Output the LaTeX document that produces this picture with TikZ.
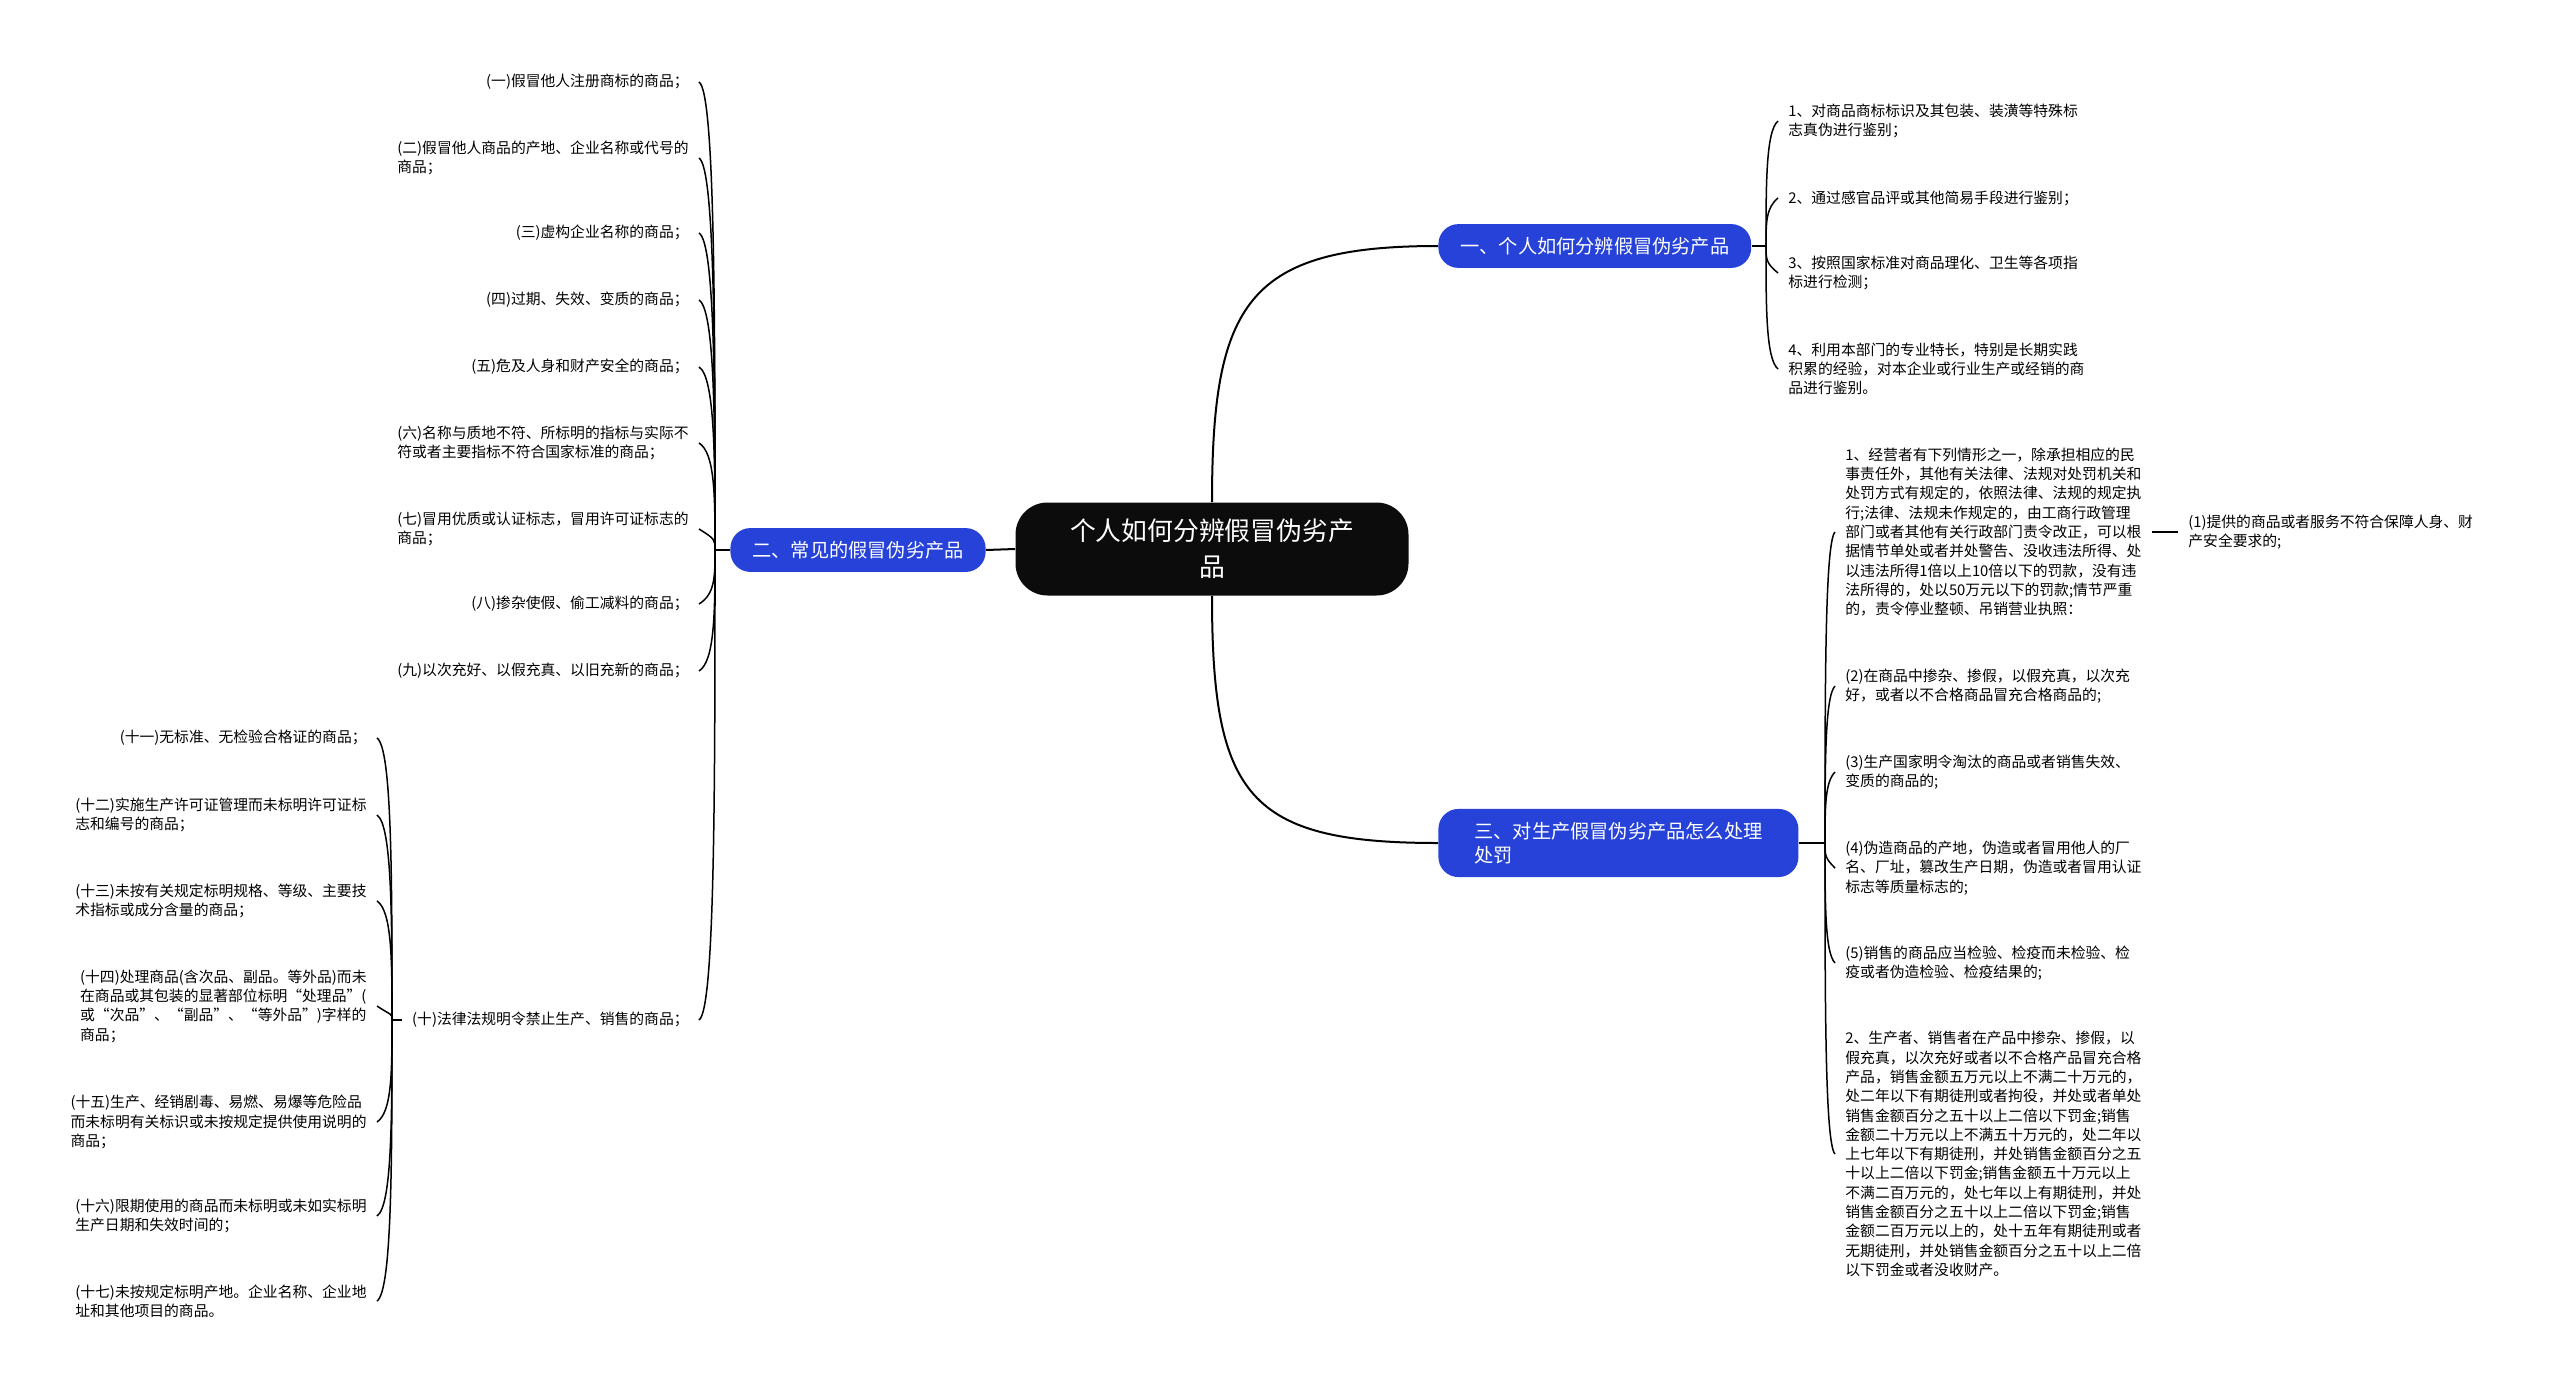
\documentclass[tikz,border=0pt]{standalone}
\usepackage{fontspec}
\setmainfont{Noto Sans CJK SC}
\usetikzlibrary{calc}
\definecolor{stblue}{HTML}{2642D8}
\definecolor{stblack}{HTML}{0C0C0C}

\begin{document}
\begin{tikzpicture}[
    x=0.5pt, y=-0.5pt,
    topic/.style={fill=stblack, text=white, rounded corners=16pt, align=center,
                  minimum width=196.5pt, minimum height=46.5pt,
                  font=\fontsize{12.9}{18}\selectfont},
    branch/.style={fill=stblue, text=white, rounded corners=10pt, align=left,
                   inner xsep=11pt, inner ysep=6.5pt,
                   font=\fontsize{9.6}{12.2}\selectfont},
    leaf/.style={align=left, inner xsep=5pt, inner ysep=0pt,
                 font=\fontsize{7.4}{9.65}\selectfont},
    lleaf/.style={leaf, anchor=east},
    rleaf/.style={leaf, anchor=west},
    link/.style={line width=1pt},
    hook/.style={line width=0.75pt,
                 to path={.. controls ($(\tikztostart |- \tikztotarget)!0.5!(\tikztostart)$)
                          and ($(\tikztostart |- \tikztotarget)!5pt!(\tikztostart)$)
                          .. (\tikztotarget)}}]

  \useasboundingbox (0,0) rectangle (2560,1392);

  \node[topic] (t) at (1212,549) {个人如何分辨假冒伪劣产\\品};

  \node[branch, anchor=west] (b1) at (1438,246) {一、个人如何分辨假冒伪劣产品};
  \node[branch, anchor=east] (b2) at (986,550)  {二、常见的假冒伪劣产品};
  \node[branch, anchor=west, inner xsep=18pt] (b3) at (1438,843)
        {三、对生产假冒伪劣产品怎么处理\\处罚};

  \draw[link] (t.north) .. controls +(0,-200) and +(-190,0) .. (b1.west);
  \draw[link] (t.south) .. controls +(0,200) and +(-190,0) .. (b3.west);
  \draw[link] (t.west) -- (b2.east);

  % ---- branch one (right, top) ----
  \coordinate (s1) at (1766,246);
  \node[rleaf] (c1) at (1778,121) {1、对商品商标标识及其包装、装潢等特殊标\\志真伪进行鉴别；};
  \node[rleaf] (c2) at (1778,198) {2、通过感官品评或其他简易手段进行鉴别；};
  \node[rleaf] (c3) at (1778,273) {3、按照国家标准对商品理化、卫生等各项指\\标进行检测；};
  \node[rleaf] (c4) at (1778,369) {4、利用本部门的专业特长，特别是长期实践\\积累的经验，对本企业或行业生产或经销的商\\品进行鉴别。};

  \draw[hook] (b1.east) -- (s1);
  \draw[hook] (s1) to (c1.west);
  \draw[hook] (s1) to (c2.west);
  \draw[hook] (s1) to (c3.west);
  \draw[hook] (s1) to (c4.west);

  % ---- branch two (left) ----
  \coordinate (s2) at (715,550);
  \node[lleaf] (l1)  at (699,82)   {(一)假冒他人注册商标的商品；};
  \node[lleaf] (l2)  at (699,158)  {(二)假冒他人商品的产地、企业名称或代号的\\商品；};
  \node[lleaf] (l3)  at (699,233)  {(三)虚构企业名称的商品；};
  \node[lleaf] (l4)  at (699,300)  {(四)过期、失效、变质的商品；};
  \node[lleaf] (l5)  at (699,367)  {(五)危及人身和财产安全的商品；};
  \node[lleaf] (l6)  at (699,443)  {(六)名称与质地不符、所标明的指标与实际不\\符或者主要指标不符合国家标准的商品；};
  \node[lleaf] (l7)  at (699,529)  {(七)冒用优质或认证标志，冒用许可证标志的\\商品；};
  \node[lleaf] (l8)  at (699,604)  {(八)掺杂使假、偷工减料的商品；};
  \node[lleaf] (l9)  at (699,671)  {(九)以次充好、以假充真、以旧充新的商品；};
  \node[lleaf] (l10) at (699,1020) {(十)法律法规明令禁止生产、销售的商品；};

  \draw[hook] (b2.west) -- (s2);
  \draw[hook] (s2) to (l1.east);
  \draw[hook] (s2) to (l2.east);
  \draw[hook] (s2) to (l3.east);
  \draw[hook] (s2) to (l4.east);
  \draw[hook] (s2) to (l5.east);
  \draw[hook] (s2) to (l6.east);
  \draw[hook] (s2) to (l7.east);
  \draw[hook] (s2) to (l8.east);
  \draw[hook] (s2) to (l9.east);
  \draw[hook] (s2) to (l10.east);

  % ---- items under (十) ----
  \coordinate (s10) at (392,1020);
  \node[lleaf] (m1) at (377,738)  {(十一)无标准、无检验合格证的商品；};
  \node[lleaf] (m2) at (377,815)  {(十二)实施生产许可证管理而未标明许可证标\\志和编号的商品；};
  \node[lleaf] (m3) at (377,901)  {(十三)未按有关规定标明规格、等级、主要技\\术指标或成分含量的商品；};
  \node[lleaf] (m4) at (377,1006) {(十四)处理商品(含次品、副品。等外品)而未\\在商品或其包装的显著部位标明“处理品”(\\或“次品”、“副品”、“等外品”)字样的\\商品；};
  \node[lleaf] (m5) at (377,1122) {(十五)生产、经销剧毒、易燃、易爆等危险品\\而未标明有关标识或未按规定提供使用说明的\\商品；};
  \node[lleaf] (m6) at (377,1216) {(十六)限期使用的商品而未标明或未如实标明\\生产日期和失效时间的；};
  \node[lleaf] (m7) at (377,1301) {(十七)未按规定标明产地。企业名称、企业地\\址和其他项目的商品。};

  \draw[hook] (l10.west) -- (s10);
  \draw[hook] (s10) to (m1.east);
  \draw[hook] (s10) to (m2.east);
  \draw[hook] (s10) to (m3.east);
  \draw[hook] (s10) to (m4.east);
  \draw[hook] (s10) to (m5.east);
  \draw[hook] (s10) to (m6.east);
  \draw[hook] (s10) to (m7.east);

  % ---- branch three (right, bottom) ----
  \coordinate (s3) at (1825,843);
  \node[rleaf] (r1) at (1835,532) {1、经营者有下列情形之一，除承担相应的民\\事责任外，其他有关法律、法规对处罚机关和\\处罚方式有规定的，依照法律、法规的规定执\\行;法律、法规未作规定的，由工商行政管理\\部门或者其他有关行政部门责令改正，可以根\\据情节单处或者并处警告、没收违法所得、处\\以违法所得1倍以上10倍以下的罚款，没有违\\法所得的，处以50万元以下的罚款;情节严重\\的，责令停业整顿、吊销营业执照：};
  \node[rleaf] (r2) at (1835,686) {(2)在商品中掺杂、掺假，以假充真，以次充\\好，或者以不合格商品冒充合格商品的;};
  \node[rleaf] (r3) at (1835,772) {(3)生产国家明令淘汰的商品或者销售失效、\\变质的商品的;};
  \node[rleaf] (r4) at (1835,868) {(4)伪造商品的产地，伪造或者冒用他人的厂\\名、厂址，篡改生产日期，伪造或者冒用认证\\标志等质量标志的;};
  \node[rleaf] (r5) at (1835,963) {(5)销售的商品应当检验、检疫而未检验、检\\疫或者伪造检验、检疫结果的;};
  \node[rleaf] (r6) at (1835,1154) {2、生产者、销售者在产品中掺杂、掺假，以\\假充真，以次充好或者以不合格产品冒充合格\\产品，销售金额五万元以上不满二十万元的，\\处二年以下有期徒刑或者拘役，并处或者单处\\销售金额百分之五十以上二倍以下罚金;销售\\金额二十万元以上不满五十万元的，处二年以\\上七年以下有期徒刑，并处销售金额百分之五\\十以上二倍以下罚金;销售金额五十万元以上\\不满二百万元的，处七年以上有期徒刑，并处\\销售金额百分之五十以上二倍以下罚金;销售\\金额二百万元以上的，处十五年有期徒刑或者\\无期徒刑，并处销售金额百分之五十以上二倍\\以下罚金或者没收财产。};
  \node[rleaf] (q1) at (2178,532) {(1)提供的商品或者服务不符合保障人身、财\\产安全要求的;};

  \draw[hook] (b3.east) -- (s3);
  \draw[hook] (s3) to (r1.west);
  \draw[hook] (s3) to (r2.west);
  \draw[hook] (s3) to (r3.west);
  \draw[hook] (s3) to (r4.west);
  \draw[hook] (s3) to (r5.west);
  \draw[hook] (s3) to (r6.west);
  \draw[hook] (r1.east) -- (q1.west);
\end{tikzpicture}
\end{document}
